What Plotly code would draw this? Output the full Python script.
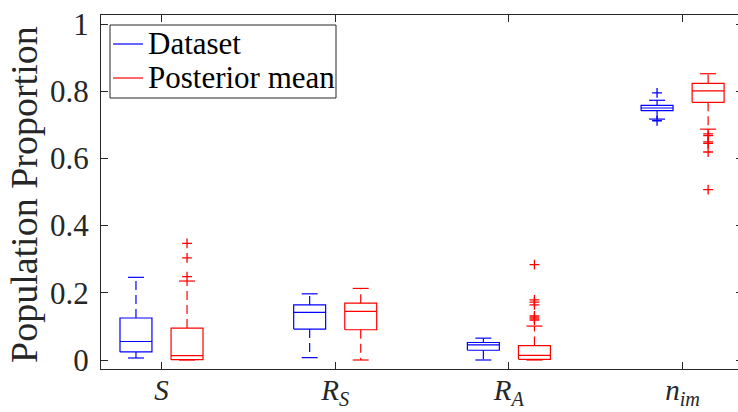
import plotly.graph_objects as go

# ---- data ----
categories = ["S", "R_S", "R_A", "n_im"]
tick_labels = ["<i>S</i>", "<i>R</i><sub><i>S</i></sub>", "<i>R</i><sub><i>A</i></sub>",
               "<i>n</i><sub><i>im</i></sub>"]
group_pos = [1, 2, 3, 4]

series_names = ["Dataset", "Posterior mean"]

dataset_q1 = [0.024, 0.092, 0.029, 0.742]
dataset_med = [0.055, 0.142, 0.045, 0.750]
dataset_q3 = [0.125, 0.164, 0.052, 0.758]
dataset_lo = [0.006, 0.007, 0.000, 0.717]
dataset_hi = [0.246, 0.197, 0.065, 0.773]
dataset_out = [[], [], [], [0.795, 0.712]]

post_q1 = [0.001, 0.090, 0.002, 0.767]
post_med = [0.013, 0.145, 0.014, 0.801]
post_q3 = [0.095, 0.169, 0.043, 0.823]
post_lo = [0.000, 0.000, 0.000, 0.687]
post_hi = [0.235, 0.213, 0.101, 0.852]
post_out = [[0.347, 0.304, 0.248], [], [0.284, 0.179, 0.172, 0.164, 0.131, 0.125, 0.119],
            [0.673, 0.668, 0.649, 0.645, 0.619, 0.507]]

y_ticks = [0, 0.2, 0.4, 0.6, 0.8, 1.0]
y_tick_labels = ["0", "0.2", "0.4", "0.6", "0.8", "1"]

# ---- style ----
FONT = "Liberation Serif"
AX = "#262626"
colors = ["#0000FF", "#FF0000"]
offsets = [-0.147, 0.147]
half_w = 0.092
cap_w = 0.046

stats = [
    (dataset_q1, dataset_med, dataset_q3, dataset_lo, dataset_hi, dataset_out),
    (post_q1, post_med, post_q3, post_lo, post_hi, post_out),
]

W, H = 738, 412
L, R, T, B = 101, 0, 15, 43
PW, PH = W - L - R, H - T - B


def px(xp):
    return (xp - L) / PW


def py(yp):
    return (H - B - yp) / PH


fig = go.Figure()

for s, (q1, med, q3, lo, hi, out) in enumerate(stats):
    col = colors[s]
    bx, by, wx, wy, cx, cy, ox, oy = [], [], [], [], [], [], [], []
    for i, g in enumerate(group_pos):
        c = g + offsets[s]
        bx += [c - half_w, c + half_w, c + half_w, c - half_w, c - half_w, None]
        by += [q1[i], q1[i], q3[i], q3[i], q1[i], None]
        bx += [c - half_w, c + half_w, None]
        by += [med[i], med[i], None]
        wx += [c, c, None, c, c, None]
        wy += [q3[i], hi[i], None, q1[i], lo[i], None]
        cx += [c - cap_w, c + cap_w, None, c - cap_w, c + cap_w, None]
        cy += [hi[i], hi[i], None, lo[i], lo[i], None]
        for v in out[i]:
            ox.append(c)
            oy.append(v)
    fig.add_trace(go.Scatter(x=wx, y=wy, mode="lines", line=dict(color=col, width=1.2, dash="9px,5px"),
                             showlegend=False, hoverinfo="skip"))
    fig.add_trace(go.Scatter(x=cx, y=cy, mode="lines", line=dict(color=col, width=1.2),
                             showlegend=False, hoverinfo="skip"))
    fig.add_trace(go.Scatter(x=bx, y=by, mode="lines", line=dict(color=col, width=1.2),
                             name=series_names[s], showlegend=False))
    fig.add_trace(go.Scatter(x=ox, y=oy, mode="markers",
                             marker=dict(symbol="cross-thin", size=7, line=dict(color=col, width=1.3)),
                             showlegend=False))

fig.add_trace(go.Scatter(x=[], y=[], yaxis="y2", showlegend=False))

# manual legend (box, line samples, labels)
shapes = [dict(type="rect", xref="paper", yref="paper", x0=px(110), x1=px(336), y0=py(98), y1=py(25),
               line=dict(color=AX, width=1), fillcolor="white", layer="above")]
annotations = []
legend_rows = [44, 78]
for s in range(2):
    yr = legend_rows[s]
    shapes.append(dict(type="line", xref="paper", yref="paper", x0=px(113), x1=px(143),
                       y0=py(yr), y1=py(yr), line=dict(color=colors[s], width=1.2), layer="above"))
    annotations.append(dict(text=series_names[s], x=px(146), y=py(yr - 1), xref="paper", yref="paper",
                            xanchor="left", yanchor="middle", showarrow=False,
                            font=dict(size=31, family=FONT, color="black")))

annotations.append(dict(text="Population Proportion", textangle=-90, x=px(24), y=py(195),
                        xref="paper", yref="paper", xanchor="center", yanchor="middle",
                        showarrow=False, font=dict(size=38, family=FONT, color=AX)))

fig.update_layout(
    width=W, height=H,
    margin=dict(l=L, r=R, t=T, b=B, autoexpand=False),
    paper_bgcolor="white", plot_bgcolor="white",
    font=dict(family=FONT, color=AX),
    showlegend=False,
    xaxis=dict(range=[0.6517, 4.319], tickvals=group_pos, ticktext=tick_labels,
               ticks="inside", ticklen=7, tickcolor=AX, tickwidth=1, automargin=False,
               showline=True, linecolor=AX, linewidth=1, mirror="ticks", ticklabelstandoff=-5,
               showgrid=False, zeroline=False, tickfont=dict(size=29, family=FONT, color=AX)),
    yaxis=dict(range=[-0.0268, 1.0268], tickvals=y_ticks, ticktext=y_tick_labels,
               ticks="inside", ticklen=7, tickcolor=AX, tickwidth=1, automargin=False,
               showline=True, linecolor=AX, linewidth=1, mirror=False,
               showgrid=False, zeroline=False, ticklabelstandoff=5,
               tickfont=dict(size=31, family=FONT, color=AX)),
    yaxis2=dict(range=[-0.0268, 1.0268], tickvals=y_ticks, overlaying="y", side="right",
                ticks="inside", ticklen=2, tickcolor=AX, showticklabels=False, automargin=False,
                showline=False, showgrid=False, zeroline=False),
    shapes=shapes,
    annotations=annotations,
)

fig.write_html("out.html")
